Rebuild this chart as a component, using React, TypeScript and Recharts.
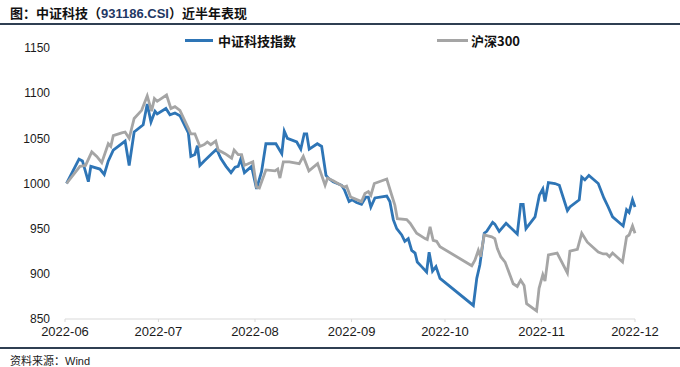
import React from 'react';
import { LineChart, Line, XAxis, YAxis } from 'recharts';

// x values are days counted from 2022-06-01
const techDays = [
  0.5, 4.5, 5.6, 7.5, 8.3, 11.2, 12.6, 13.9, 15.5, 19.3, 20.6, 22.2, 25.1, 26.4, 27.6, 28.9, 29.6,
  32.4, 33.7, 35.3, 36.9, 39.6, 40.4, 41.7, 42.5, 43.3, 44.7, 47.1, 48.7, 50.0, 51.7, 53.3, 54.6,
  55.6, 56.4, 57.6, 59.9, 61.5, 63.1, 64.5, 67.7, 69.6, 70.4, 71.4, 74.4, 75.7, 76.8, 77.6, 78.4,
  81.0, 82.4, 83.8, 84.5, 86.1, 88.8, 89.7, 91.2, 92.2, 93.6, 95.2, 96.6, 97.4, 98.2, 99.5, 103.3,
  104.3, 105.4, 106.5, 108.1, 109.1, 110.2, 111.3, 112.4, 113.1, 114.5, 116.1, 116.9, 118.0, 119.1,
  120.4, 131.1, 132.2, 133.2, 134.6, 135.4, 137.3, 138.0, 139.4, 141.6, 145.2, 146.3, 147.1, 148.0,
  150.9, 152.3, 153.4, 154.1, 155.2, 157.3, 158.7, 160.0, 161.3, 162.1, 165.1, 165.9, 166.9, 168.2,
  171.2, 173.0, 174.4, 175.8, 179.2, 180.3, 181.1, 182.2, 183,
];
const techValues = [
  1000, 1027, 1025, 1002, 1019, 1016, 1010, 1025, 1037, 1047, 1020, 1057, 1065, 1088, 1068, 1080, 1077,
  1083, 1076, 1078, 1075, 1056, 1030, 1032, 1042, 1020, 1025, 1033, 1038, 1028, 1019, 1012, 1018,
  1019, 1027, 1012, 1019, 994, 1013, 1044, 1044, 1033, 1058, 1050, 1046, 1038, 1055, 1055, 1038,
  1044, 1041, 1009, 1006, 1002, 998, 993, 980, 982, 979, 977, 985, 985, 974, 984, 986,
  980, 960, 950, 943, 936, 939, 926, 923, 913, 908, 902, 924, 903, 908,
  895, 865, 895, 910, 945, 947, 957, 955, 947, 956, 944, 977, 977, 950,
  963, 987, 994, 980, 1001, 1000, 998, 984, 970, 974, 982, 1007, 1004, 1009,
  1000, 984, 974, 963, 953, 971, 968, 982, 974,
];

const hs300Days = [
  0.5, 4.8, 6.6, 8.6, 10.2, 11.8, 13.9, 14.7, 15.5, 18.2, 19.3, 20.6, 22.2, 24.6, 26.4, 27.8, 28.7,
  29.6, 32.6, 34.0, 35.3, 36.9, 39.6, 40.4, 41.7, 43.3, 44.7, 45.7, 46.8, 48.4, 49.2, 51.4, 53.5,
  54.3, 55.6, 56.7, 57.6, 60.3, 61.5, 62.4, 64.5, 67.4, 68.3, 69.0, 70.1, 72.0, 75.2, 76.5, 78.3,
  81.1, 83.5, 84.3, 86.1, 89.7, 90.4, 91.7, 93.1, 95.2, 96.3, 97.4, 98.2, 99.3, 103.3, 104.9,
  105.9, 106.7, 109.7, 110.8, 112.9, 115.6, 116.3, 117.2, 118.2, 119.3, 120.4, 130.6, 131.6, 132.7,
  133.4, 134.6, 137.0, 138.0, 138.8, 139.9, 141.3, 143.9, 145.2, 146.3, 147.4, 148.2, 151.4, 152.2,
  153.4, 154.1, 155.2, 158.0, 161.3, 162.1, 164.5, 165.9, 167.7, 171.2, 172.8, 173.9, 174.8, 175.8,
  179.0, 180.3, 181.1, 182.2, 183,
];
const hs300Values = [
  1000, 1019, 1020, 1035, 1030, 1023, 1044, 1041, 1053, 1056, 1057, 1050, 1072, 1081, 1097, 1080, 1094,
  1091, 1098, 1083, 1085, 1081, 1061, 1055, 1055, 1041, 1043, 1046, 1043, 1047, 1037, 1033, 1028,
  1037, 1032, 1032, 1020, 1024, 996, 995, 1015, 1014, 1016, 1006, 1024, 1024, 1022, 1030, 1014,
  1022, 998, 1006, 1003, 996, 997, 985, 983, 980, 989, 991, 987, 1000, 1005, 987,
  976, 961, 960, 956, 945, 939, 938, 952, 937, 936, 930, 909, 915, 926,
  919, 943, 941, 939, 928, 919, 913, 889, 886, 893, 887, 867, 859, 884,
  899, 892, 921, 923, 901, 925, 927, 945, 935, 924, 922, 922, 919, 923,
  913, 941, 943, 953, 945,
];

const monthTicks = [0, 30, 61, 92, 122, 153, 183];
const monthLabels = ['2022-06', '2022-07', '2022-08', '2022-09', '2022-10', '2022-11', '2022-12'];
const valueTicks = [850, 900, 950, 1000, 1050, 1100, 1150];

const techData = techDays.map((d, i) => ({ d, v: techValues[i] }));
const hs300Data = hs300Days.map((d, i) => ({ d, v: hs300Values[i] }));

const BLUE = '#2e75b6';
const GRAY = '#a5a5a5';
const RULE = '#2f3f52';
const CJK = '"Noto Sans CJK SC", "Noto Sans", sans-serif';
const LATIN = '"Liberation Sans", Arial, sans-serif';

export default function App() {
  return (
    <div style={{ position: 'absolute', left: 0, top: 0, width: 680, height: 367, background: '#fff', overflow: 'hidden' }}>
      {/* title */}
      <div style={{ position: 'absolute', left: 10, top: 3, fontFamily: CJK, fontWeight: 700, fontSize: 13, color: '#111', whiteSpace: 'nowrap' }}>
        图：中证科技（<span style={{ fontFamily: LATIN, color: '#1f3864' }}>931186.CSI</span>）近半年表现
      </div>
      <div style={{ position: 'absolute', left: 0, top: 23, width: 680, height: 2, background: RULE }} />

      {/* legend */}
      <div style={{ position: 'absolute', left: 185, top: 39, width: 28, height: 3, background: BLUE }} />
      <div style={{ position: 'absolute', left: 218, top: 31, fontFamily: CJK, fontWeight: 700, fontSize: 13, color: '#111', whiteSpace: 'nowrap' }}>
        中证科技指数
      </div>
      <div style={{ position: 'absolute', left: 437, top: 39, width: 31, height: 3, background: GRAY }} />
      <div style={{ position: 'absolute', left: 471, top: 31, fontFamily: CJK, fontWeight: 700, fontSize: 13, color: '#111', whiteSpace: 'nowrap' }}>
        沪深300
      </div>

      <div style={{ position: 'absolute', left: 0, top: 0 }}>
        <LineChart width={680} height={367} margin={{ top: 48, right: 45, bottom: 18, left: 5 }}>
          <XAxis
            dataKey="d"
            type="number"
            domain={[0, 183]}
            ticks={monthTicks}
            tickFormatter={(t: number) => monthLabels[monthTicks.indexOf(t)]}
            allowDuplicatedCategory={false}
            stroke="#d9d9d9"
            tickSize={3}
            tickMargin={5}
            height={30}
            tick={{ fill: '#1a1a1a', fontSize: 13, fontFamily: LATIN }}
            interval={0}
          />
          <YAxis
            dataKey="v"
            type="number"
            domain={[850, 1150]}
            ticks={valueTicks}
            width={60}
            axisLine={false}
            tickLine={false}
            tickSize={0}
            tickMargin={15}
            tick={{ fill: '#1a1a1a', fontSize: 12, fontFamily: LATIN }}
            interval={0}
          />
          <Line data={techData} dataKey="v" type="linear" stroke={BLUE} strokeWidth={2.8} dot={false} isAnimationActive={false} />
          <Line data={hs300Data} dataKey="v" type="linear" stroke={GRAY} strokeWidth={2.8} dot={false} isAnimationActive={false} />
        </LineChart>
      </div>

      {/* source */}
      <div style={{ position: 'absolute', left: 0, top: 347, width: 680, height: 2, background: RULE }} />
      <div style={{ position: 'absolute', left: 10, top: 354, fontFamily: CJK, fontSize: 11, lineHeight: '13px', color: '#222', whiteSpace: 'nowrap' }}>
        资料来源：<span style={{ fontFamily: LATIN }}>Wind</span>
      </div>
    </div>
  );
}
